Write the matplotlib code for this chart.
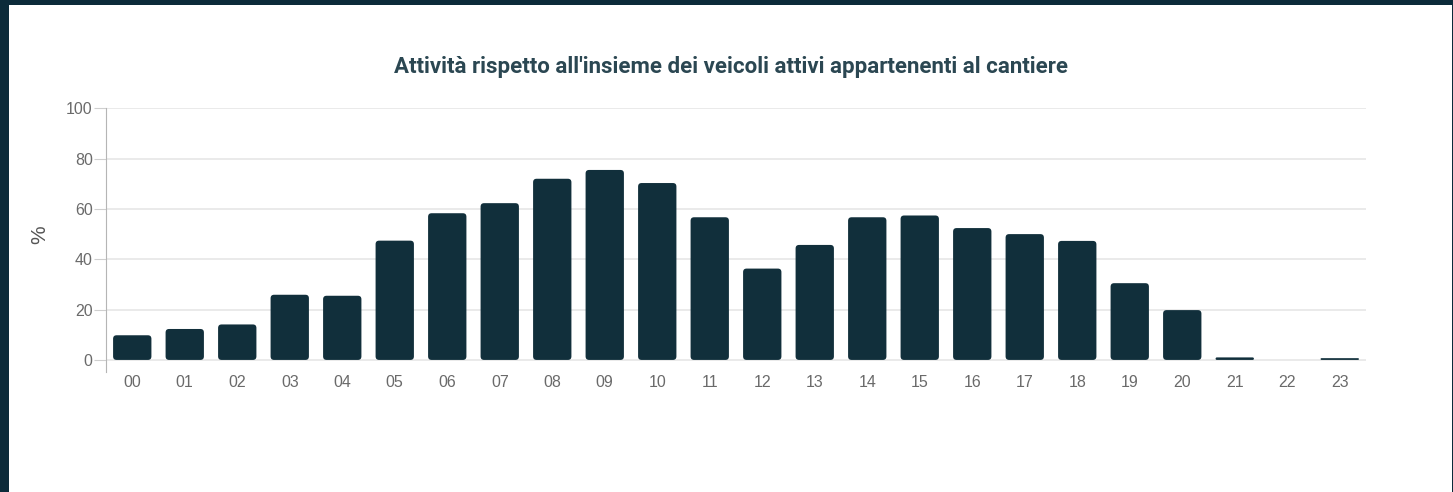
import numpy as np
import matplotlib.pyplot as plt
from matplotlib.patches import FancyBboxPatch, Rectangle

hours = ['00', '01', '02', '03', '04', '05', '06', '07', '08', '09', '10', '11',
         '12', '13', '14', '15', '16', '17', '18', '19', '20', '21', '22', '23']
activity = [9.8, 12.3, 14.1, 25.9, 25.5, 47.4, 58.3, 62.3, 72.0, 75.5, 70.3, 56.7,
            36.3, 45.7, 56.7, 57.4, 52.4, 50.0, 47.3, 30.5, 19.8, 1.0, 0.0, 0.7]

W, H = 1453, 492
fig = plt.figure(figsize=(W / 100, H / 100), dpi=100, facecolor='#0c2b3a')
# white card on the dark page
fig.patches.append(Rectangle((9 / W, 0), (W - 10) / W, (H - 5) / H, transform=fig.transFigure,
                             facecolor='white', edgecolor='none', zorder=-5))

ymin = -4.8
ax = fig.add_axes([106 / W, 1 - 372 / H, 1260 / W, (372 - 108.3) / H])
ax.set_facecolor('none')
ax.set_xlim(-0.5, len(hours) - 0.5)
ax.set_ylim(ymin, 100)

bars = ax.bar(range(len(hours)), activity, width=0.73, color='#112f3b')

# rounded corners: swap rectangles for fancy boxes
px_x = 1260 / len(hours)
px_y = (372 - 108.3) / (100 - ymin)
aspect = px_x / px_y
for b in bars:
    x, w, h = b.get_x(), b.get_width(), b.get_height()
    b.remove()
    if h <= 0:
        continue
    r = min(3.5 / px_x, h / aspect / 2)
    ax.add_patch(FancyBboxPatch((x, 0), w, h, boxstyle=f'round,pad=0,rounding_size={r}',
                                mutation_aspect=aspect, facecolor='#112f3b', edgecolor='none', zorder=3))

ax.set_yticks([0, 20, 40, 60, 80, 100])
ax.set_xticks(range(len(hours)))
ax.set_xticklabels(hours)
ax.yaxis.grid(True, color='#e6e6e6', linewidth=1.2)
ax.set_axisbelow(True)
for s in ['top', 'right', 'bottom']:
    ax.spines[s].set_visible(False)
ax.spines['left'].set_color('#b5b5b5')
ax.tick_params(axis='y', length=8.6, color='#cfcfcf', labelcolor='#6a6a6a', labelsize=11.5, pad=1)
ax.tick_params(axis='x', length=0, labelcolor='#6a6a6a', labelsize=11.5, pad=2)
for lab in ax.get_xticklabels() + ax.get_yticklabels():
    lab.set_fontfamily('Liberation Sans')

fig.text(40 / W, 1 - 235 / H, '%', rotation=90, ha='center', va='center',
         fontsize=15, color='#555555', family='Liberation Sans')
fig.text(731 / W, 1 - 67 / H, "Attività rispetto all'insieme dei veicoli attivi appartenenti al cantiere",
         ha='center', va='center', fontsize=16, fontweight='bold', color='#2b4752', family='Roboto')

fig.savefig('out.png', dpi=100, facecolor=fig.get_facecolor())
